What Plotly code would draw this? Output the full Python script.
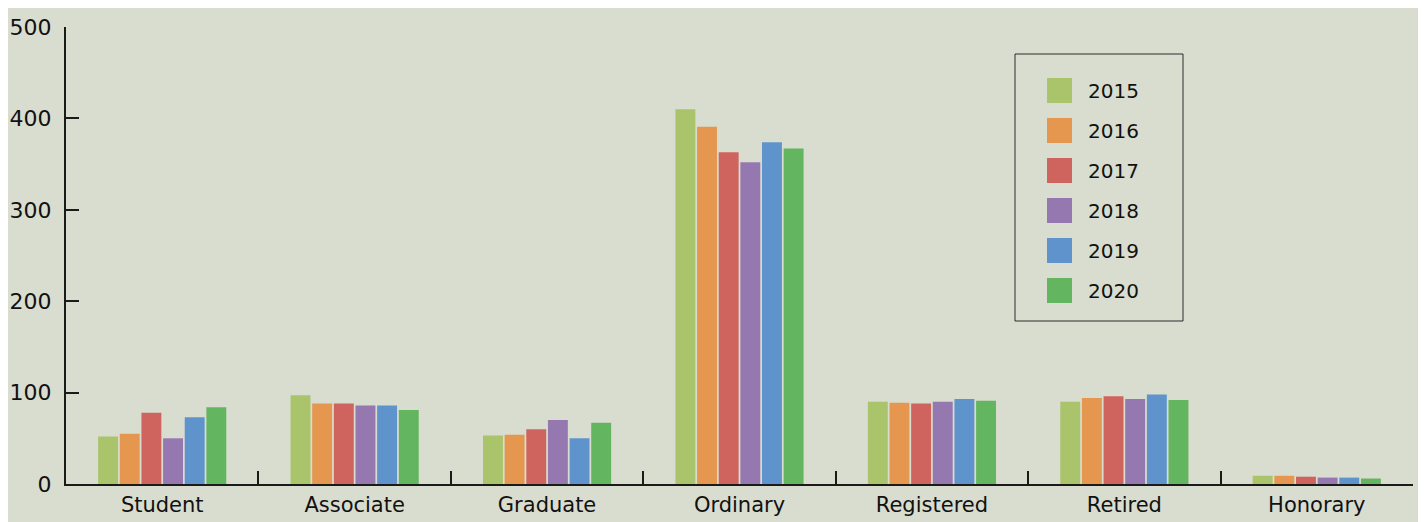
import plotly.graph_objects as go

categories = ["Student", "Associate", "Graduate", "Ordinary", "Registered", "Retired", "Honorary"]
years = ["2015", "2016", "2017", "2018", "2019", "2020"]
values_2015 = [52, 97, 53, 410, 90, 90, 9]
values_2016 = [55, 88, 54, 391, 89, 94, 9]
values_2017 = [78, 88, 60, 363, 88, 96, 8]
values_2018 = [50, 86, 70, 352, 90, 93, 7]
values_2019 = [73, 86, 50, 374, 93, 98, 7]
values_2020 = [84, 81, 67, 367, 91, 92, 6]
series = [values_2015, values_2016, values_2017, values_2018, values_2019, values_2020]
colors = ["#A9C46A", "#E5974F", "#CF645E", "#9678B0", "#5E94CB", "#63B55F"]
y_ticks = [0, 100, 200, 300, 400, 500]

# page has an 8px body margin; compensate so the plot lands at the target pixels
OFF = 8
W, H = 1426 - OFF, 522 - OFF
L, R, T, B = 66 - OFF, 13, 27 - OFF, 38
PW, PH = W - L - R, H - T - B

font_family = "DejaVu Sans, Liberation Sans, Arial, sans-serif"

fig = go.Figure()
for yr, vals, col in zip(years, series, colors):
    fig.add_trace(go.Bar(name=yr, x=categories, y=vals, marker=dict(color=col, line=dict(width=0)),
                         showlegend=False))

# convert target-screen pixels to paper coordinates
def px_x(p):
    return (p - 66) / PW

def px_y(p):
    return (484 - p) / PH

shapes = []
annotations = []
shapes.append(dict(type="rect", xref="paper", yref="paper",
                   x0=px_x(1015), x1=px_x(1183), y0=px_y(321), y1=px_y(54),
                   line=dict(color="#2a2a2a", width=1), fillcolor="rgba(0,0,0,0)"))
for i, (yr, col) in enumerate(zip(years, colors)):
    top = 78 + 40 * i
    shapes.append(dict(type="rect", xref="paper", yref="paper",
                       x0=px_x(1047), x1=px_x(1072), y0=px_y(top + 25), y1=px_y(top),
                       line=dict(width=0), fillcolor=col))
    annotations.append(dict(xref="paper", yref="paper", x=px_x(1086), y=px_y(top + 12.5),
                            text=yr, showarrow=False, xanchor="left", yanchor="middle",
                            font=dict(size=20, color="#111", family=font_family)))

fig.update_layout(
    width=W, height=H,
    margin=dict(l=L, r=R, t=T, b=B, pad=0, autoexpand=False),
    paper_bgcolor="#D9DDCF",
    plot_bgcolor="rgba(0,0,0,0)",
    barmode="group",
    bargap=0.325,
    bargroupgap=0.08,
    font=dict(family=font_family, size=22, color="#111"),
    shapes=shapes,
    annotations=annotations,
    showlegend=False,
    xaxis=dict(showline=True, linecolor="#1a1a1a", linewidth=2, showgrid=False,
               automargin=False,
               ticks="inside", ticklen=13, tickwidth=2, tickcolor="#1a1a1a",
               tickson="boundaries", ticklabelstandoff=1,
               tickfont=dict(size=21, color="#111")),
    yaxis=dict(range=[0, 500], showline=True, linecolor="#1a1a1a", linewidth=2, showgrid=False,
               automargin=False,
               zeroline=False, ticks="inside", ticklen=13, tickwidth=2, tickcolor="#1a1a1a",
               tickvals=y_ticks, ticklabelstandoff=8,
               tickfont=dict(size=22, color="#111")),
)

fig.write_html("out.html")
